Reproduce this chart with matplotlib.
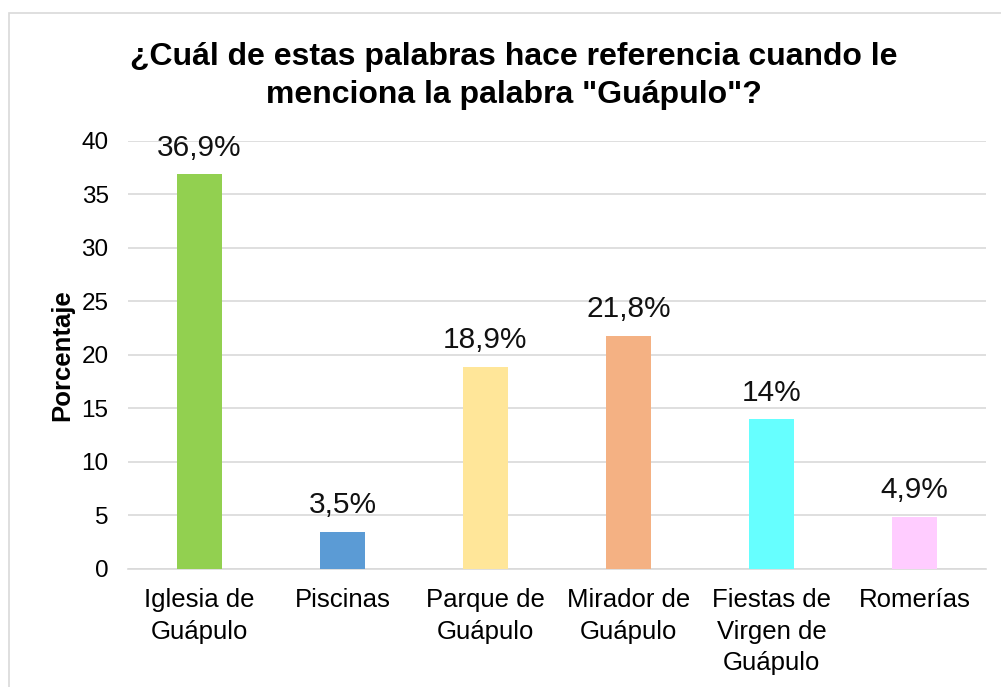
import matplotlib
matplotlib.use("Agg")
import matplotlib.pyplot as plt
from matplotlib.patches import Rectangle

plt.rcParams['font.family'] = ['Liberation Sans', 'DejaVu Sans']

# datos
categorias = ["Iglesia de\nGuápulo", "Piscinas", "Parque de\nGuápulo",
              "Mirador de\nGuápulo", "Fiestas de\nVirgen de\nGuápulo", "Romerías"]
porcentajes = [36.9, 3.5, 18.9, 21.8, 14, 4.9]
etiquetas = ["36,9%", "3,5%", "18,9%", "21,8%", "14%", "4,9%"]
colores = ["#92D050", "#5B9BD5", "#FFE699", "#F4B183", "#66FFFF", "#FFCCFF"]

fig = plt.figure(figsize=(10.01, 6.87), dpi=100)
ax = fig.add_axes([0.1279, 0.1718, 0.857, 0.623])

# marco del grafico
fig.patches.append(Rectangle((9 / 1001, -0.1), 1.2, 1 - 13 / 687 + 0.1,
                             transform=fig.transFigure, fill=False,
                             edgecolor='#D9D9D9', linewidth=1.2))

x = range(len(categorias))
bars = ax.bar(x, porcentajes, width=0.315, color=colores, zorder=3)

for b, lab in zip(bars, etiquetas):
    ax.annotate(lab, (b.get_x() + b.get_width() / 2, b.get_height()),
                xytext=(0, 9), textcoords='offset points',
                ha='center', va='bottom', fontsize=21.5, color='#111111')

ax.set_xlim(-0.5, len(categorias) - 0.5)
ax.set_ylim(0, 40)
ax.set_yticks(range(0, 41, 5))
ax.set_xticks(list(x))
ax.set_xticklabels(categorias, fontsize=18.5, linespacing=1.38)
ax.tick_params(axis='y', labelsize=17.5, length=0, pad=14)
ax.tick_params(axis='x', length=0, pad=14)
ax.grid(axis='y', color='#D9D9D9', linewidth=1.2, zorder=0)
for s in ['top', 'right', 'left']:
    ax.spines[s].set_visible(False)
ax.spines['bottom'].set_color('#D9D9D9')
ax.spines['bottom'].set_linewidth(1.2)

ax.set_ylabel("Porcentaje", fontsize=18.5, fontweight='bold', labelpad=5)

fig.text(514 / 1001, 1 - 76 / 687,
         "¿Cuál de estas palabras hace referencia cuando le\nmenciona la palabra \"Guápulo\"?",
         ha='center', va='center', fontsize=23, fontweight='bold',
         linespacing=1.32)

fig.savefig("out.png", dpi=100)
